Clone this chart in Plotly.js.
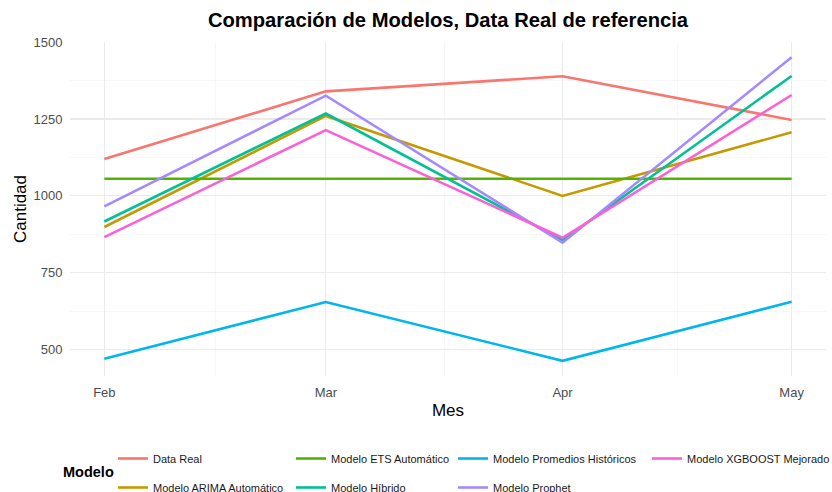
<!DOCTYPE html>
<html>
<head>
<meta charset="utf-8">
<script src="https://cdn.plot.ly/plotly-3.0.1.min.js"></script>
<style>html,body{margin:0;padding:0;background:#fff;}#chart{width:832px;height:492px;}</style>
</head>
<body>
<div id="chart"></div>
<script>
// ---- data ----
const meses = ['2024-02-01', '2024-03-01', '2024-04-01', '2024-05-01'];
const mesLabels = ['Feb', 'Mar', 'Apr', 'May'];
const modelos = ['Data Real', 'Modelo ARIMA Automático', 'Modelo ETS Automático', 'Modelo Híbrido',
                 'Modelo Promedios Históricos', 'Modelo Prophet', 'Modelo XGBOOST Mejorado'];
const dataReal   = [1120, 1340, 1389, 1247];
const arima      = [899, 1260, 1000, 1207];
const ets        = [1056, 1056, 1056, 1056];
const hibrido    = [917, 1268, 856, 1390];
const promedios  = [471, 655, 464, 656];
const prophet    = [966, 1326, 848, 1451];
const xgboost    = [866, 1214, 864, 1328];
const colores = ['#F8766D', '#C49A00', '#53B400', '#00C094', '#00B6EB', '#A58AFF', '#FB61D7'];
const yTicks = [500, 750, 1000, 1250, 1500];

// ---- chart ----
const series = [dataReal, arima, ets, hibrido, promedios, prophet, xgboost];
const legendOf = ['legend', 'legend', 'legend2', 'legend2', 'legend3', 'legend3', 'legend4'];
const FONT = 'Liberation Sans, Arial, sans-serif';

const traces = series.map((ys, i) => ({
  type: 'scatter', mode: 'lines',
  x: meses, y: ys, name: modelos[i],
  line: {color: colores[i], width: 2.6},
  legend: legendOf[i], legendgroup: 'g' + i,
  hoverinfo: 'x+y+name'
}));

// ranges with ggplot-like 5% expansion
const allY = series.flat();
const yMin = Math.min(...allY), yMax = Math.max(...allY);
const yPad = (yMax - yMin) * 0.05;
const t0 = new Date(meses[0] + 'T00:00:00Z').getTime();
const t1 = new Date(meses[meses.length - 1] + 'T00:00:00Z').getTime();
const xPad = (t1 - t0) * 0.05;
const iso = ms => new Date(ms).toISOString().replace('T', ' ').replace('Z', '').slice(0, 19);
const minorX = [];
for (let i = 0; i < meses.length - 1; i++) {
  const a = new Date(meses[i] + 'T00:00:00Z').getTime();
  const b = new Date(meses[i + 1] + 'T00:00:00Z').getTime();
  minorX.push(iso((a + b) / 2));
}

const W = 832, H = 492;
const M = {l: 70, r: 6, t: 42, b: 116};
const PW = W - M.l - M.r, PH = H - M.t - M.b;
const px2x = px => (px - M.l) / PW;
const py2y = py => (H - M.b - py) / PH;
function leg(px, py) {
  return {
    xref: 'paper', yref: 'paper', x: px2x(px), y: py2y(py),
    xanchor: 'left', yanchor: 'top', orientation: 'v',
    bgcolor: 'rgba(0,0,0,0)', borderwidth: 0,
    font: {family: FONT, size: 11, color: '#1a1a1a'},
    traceorder: 'grouped', tracegroupgap: 10, itemwidth: 30
  };
}

const layout = {
  width: W, height: H,
  paper_bgcolor: '#ffffff', plot_bgcolor: '#ffffff',
  margin: {l: M.l, r: M.r, t: M.t, b: M.b, autoexpand: false},
  font: {family: FONT, color: '#000'},
  title: {
    text: '<b>Comparación de Modelos, Data Real de referencia</b>',
    font: {family: FONT, size: 20.2, color: '#000'},
    xref: 'paper', x: 0.5, xanchor: 'center',
    yref: 'container', y: 1 - 20 / H, yanchor: 'middle'
  },
  xaxis: {
    type: 'date',
    range: [iso(t0 - xPad), iso(t1 + xPad)],
    tickmode: 'array', tickvals: meses, ticktext: mesLabels,
    tickfont: {family: FONT, size: 13, color: '#4D4D4D'},
    ticks: 'outside', ticklen: 4, tickcolor: 'rgba(0,0,0,0)',
    showgrid: true, gridcolor: '#EBEBEB', gridwidth: 1.1,
    minor: {tickmode: 'array', tickvals: minorX, showgrid: true, gridcolor: '#F2F2F2', gridwidth: 0.6},
    zeroline: false, showline: false, automargin: false,
    title: {text: 'Mes', font: {family: FONT, size: 17, color: '#000'}, standoff: 5}
  },
  yaxis: {
    range: [yMin - yPad, yMax + yPad],
    tickmode: 'array', tickvals: yTicks,
    tickfont: {family: FONT, size: 13, color: '#4D4D4D'},
    ticks: 'outside', ticklen: 4, tickcolor: 'rgba(0,0,0,0)',
    showgrid: true, gridcolor: '#EBEBEB', gridwidth: 1.1,
    minor: {dtick: 125, tick0: 0, showgrid: true, gridcolor: '#F2F2F2', gridwidth: 0.6},
    zeroline: false, showline: false, automargin: false,
    title: {text: 'Cantidad', font: {family: FONT, size: 17, color: '#000'}, standoff: 2}
  },
  legend: leg(113, 444),
  legend2: leg(291, 444),
  legend3: leg(453, 444),
  legend4: leg(647, 444),
  annotations: [{
    xref: 'paper', yref: 'paper', x: px2x(88), y: py2y(472),
    text: '<b>Modelo</b>', showarrow: false,
    font: {family: FONT, size: 14.5, color: '#000'},
    xanchor: 'center', yanchor: 'middle'
  }],
  showlegend: true,
  hovermode: 'closest'
};

Plotly.newPlot('chart', traces, layout, {displayModeBar: false, staticPlot: true});
</script>
</body>
</html>
